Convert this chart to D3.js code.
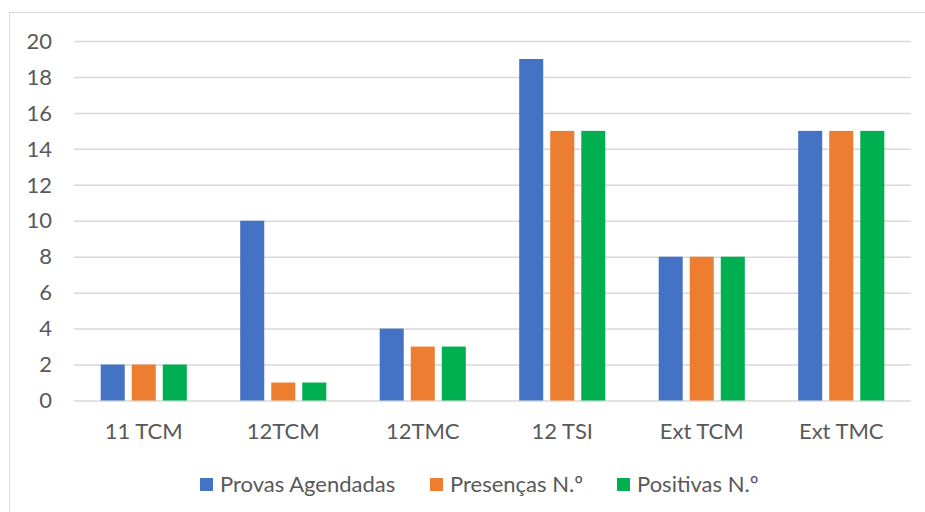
<!DOCTYPE html>
<html>
<head>
<meta charset="utf-8">
<script src="https://cdn.jsdelivr.net/npm/d3@7"></script>
<style>
  body { margin: 0; background: #fff; }
  svg text { font-family: Lato, "Open Sans", sans-serif; fill: #595959; }
</style>
</head>
<body>
<svg id="chart" width="925" height="512"></svg>
<script>
const categories = ["11 TCM", "12TCM", "12TMC", "12 TSI", "Ext TCM", "Ext TMC"];
const seriesNames = ["Provas Agendadas", "Presenças N.º", "Positivas N.º"];
const provas = [2, 10, 4, 19, 8, 15];
const presencas = [2, 1, 3, 15, 8, 15];
const positivas = [2, 1, 3, 15, 8, 15];
const yTicks = [0, 2, 4, 6, 8, 10, 12, 14, 16, 18, 20];
const colors = ["#4472C4", "#ED7D31", "#00B050"];

const seriesValues = [provas, presencas, positivas];

const svg = d3.select("#chart");

// outer frame
svg.append("rect")
  .attr("x", 9.5).attr("y", 12.5)
  .attr("width", 930).attr("height", 520)
  .attr("fill", "none")
  .attr("stroke", "#d9d9d9");

const plotLeft = 74, plotRight = 911, plotTop = 41, plotBottom = 400.5;

const x = d3.scaleBand().domain(categories).range([plotLeft, plotRight]);
const x1 = d3.scaleBand().domain(seriesNames).range([0, x.bandwidth()])
  .paddingInner(0.226).paddingOuter(0.86);
const y = d3.scaleLinear().domain([0, 20]).range([plotBottom, plotTop]);

// gridlines
svg.append("g")
  .attr("transform", `translate(${plotLeft},0)`)
  .call(d3.axisLeft(y).tickValues(yTicks).tickSize(-(plotRight - plotLeft)).tickFormat(""))
  .call(g => g.select(".domain").remove())
  .call(g => g.selectAll("line").attr("stroke", "#d9d9d9").attr("stroke-width", 1.5));

// y labels
svg.append("g")
  .selectAll("text")
  .data(yTicks)
  .join("text")
  .attr("x", 52)
  .attr("y", d => y(d))
  .attr("dy", "0.35em")
  .attr("text-anchor", "end")
  .attr("font-size", 22)
  .text(d => d);

// bars
const groups = svg.append("g")
  .selectAll("g")
  .data(categories)
  .join("g")
  .attr("transform", d => `translate(${x(d)},0)`);

groups.selectAll("rect")
  .data((c, i) => seriesNames.map((s, j) => ({ s, v: seriesValues[j][i], j })))
  .join("rect")
  .attr("x", d => x1(d.s))
  .attr("width", x1.bandwidth())
  .attr("y", d => y(d.v))
  .attr("height", d => y(0) - y(d.v))
  .attr("fill", d => colors[d.j]);

// x labels
svg.append("g")
  .selectAll("text")
  .data(categories)
  .join("text")
  .attr("x", d => x(d) + x.bandwidth() / 2)
  .attr("y", 439)
  .attr("text-anchor", "middle")
  .attr("font-size", 22)
  .text(d => d);

// legend
const legendX = [200, 430, 617];
const legend = svg.append("g")
  .selectAll("g")
  .data(seriesNames)
  .join("g")
  .attr("transform", (d, i) => `translate(${legendX[i]},478)`);

legend.append("rect")
  .attr("width", 13).attr("height", 13)
  .attr("fill", (d, i) => colors[i]);

legend.append("text")
  .attr("x", 20)
  .attr("y", 14)
  .attr("font-size", 22)
  .text(d => d);
</script>
</body>
</html>
